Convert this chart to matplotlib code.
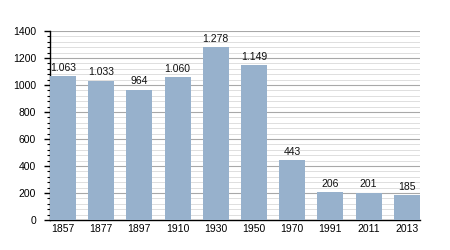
import numpy as np
import matplotlib
matplotlib.use('Agg')
import matplotlib.pyplot as plt
from matplotlib.ticker import MultipleLocator

years = ['1857', '1877', '1897', '1910', '1930', '1950', '1970', '1991', '2011', '2013']
population = [1063, 1033, 964, 1060, 1278, 1149, 443, 206, 201, 185]
value_labels = ['1.063', '1.033', '964', '1.060', '1.278', '1.149', '443', '206', '201', '185']

plt.rcParams['font.family'] = ['Liberation Sans', 'DejaVu Sans']

fig = plt.figure(figsize=(4.5, 2.5), dpi=100)
ax = fig.add_axes([0.111, 0.12, 0.822, 0.756])

w = 0.68
x = np.arange(len(years))
ax.bar(x, population, width=w, color='#97b1cc', zorder=3)

for xi, v, lab in zip(x, population, value_labels):
    ax.text(xi, v + 25, lab, ha='center', va='bottom', fontsize=7.5, color='#111111')

ax.set_xlim(-w/2, len(years) - 1 + w/2)
ax.set_ylim(0, 1400)
ax.yaxis.set_major_locator(MultipleLocator(200))
ax.yaxis.set_minor_locator(MultipleLocator(40))
ax.grid(which='major', axis='y', color='#a8a8a8', linewidth=0.8, zorder=0)
ax.grid(which='minor', axis='y', color='#dedede', linewidth=0.7, zorder=0)
ax.set_xticks(x)
ax.set_xticklabels(years)

for s in ['top', 'right']:
    ax.spines[s].set_visible(False)
ax.spines['left'].set_linewidth(1.0)
ax.spines['bottom'].set_linewidth(1.0)
ax.tick_params(axis='y', which='major', length=4, width=1, labelsize=7.5, pad=6)
ax.tick_params(axis='y', which='minor', length=2, width=0.8)
ax.tick_params(axis='x', length=0, labelsize=7.5, pad=3)

fig.savefig('out.png', dpi=100)
